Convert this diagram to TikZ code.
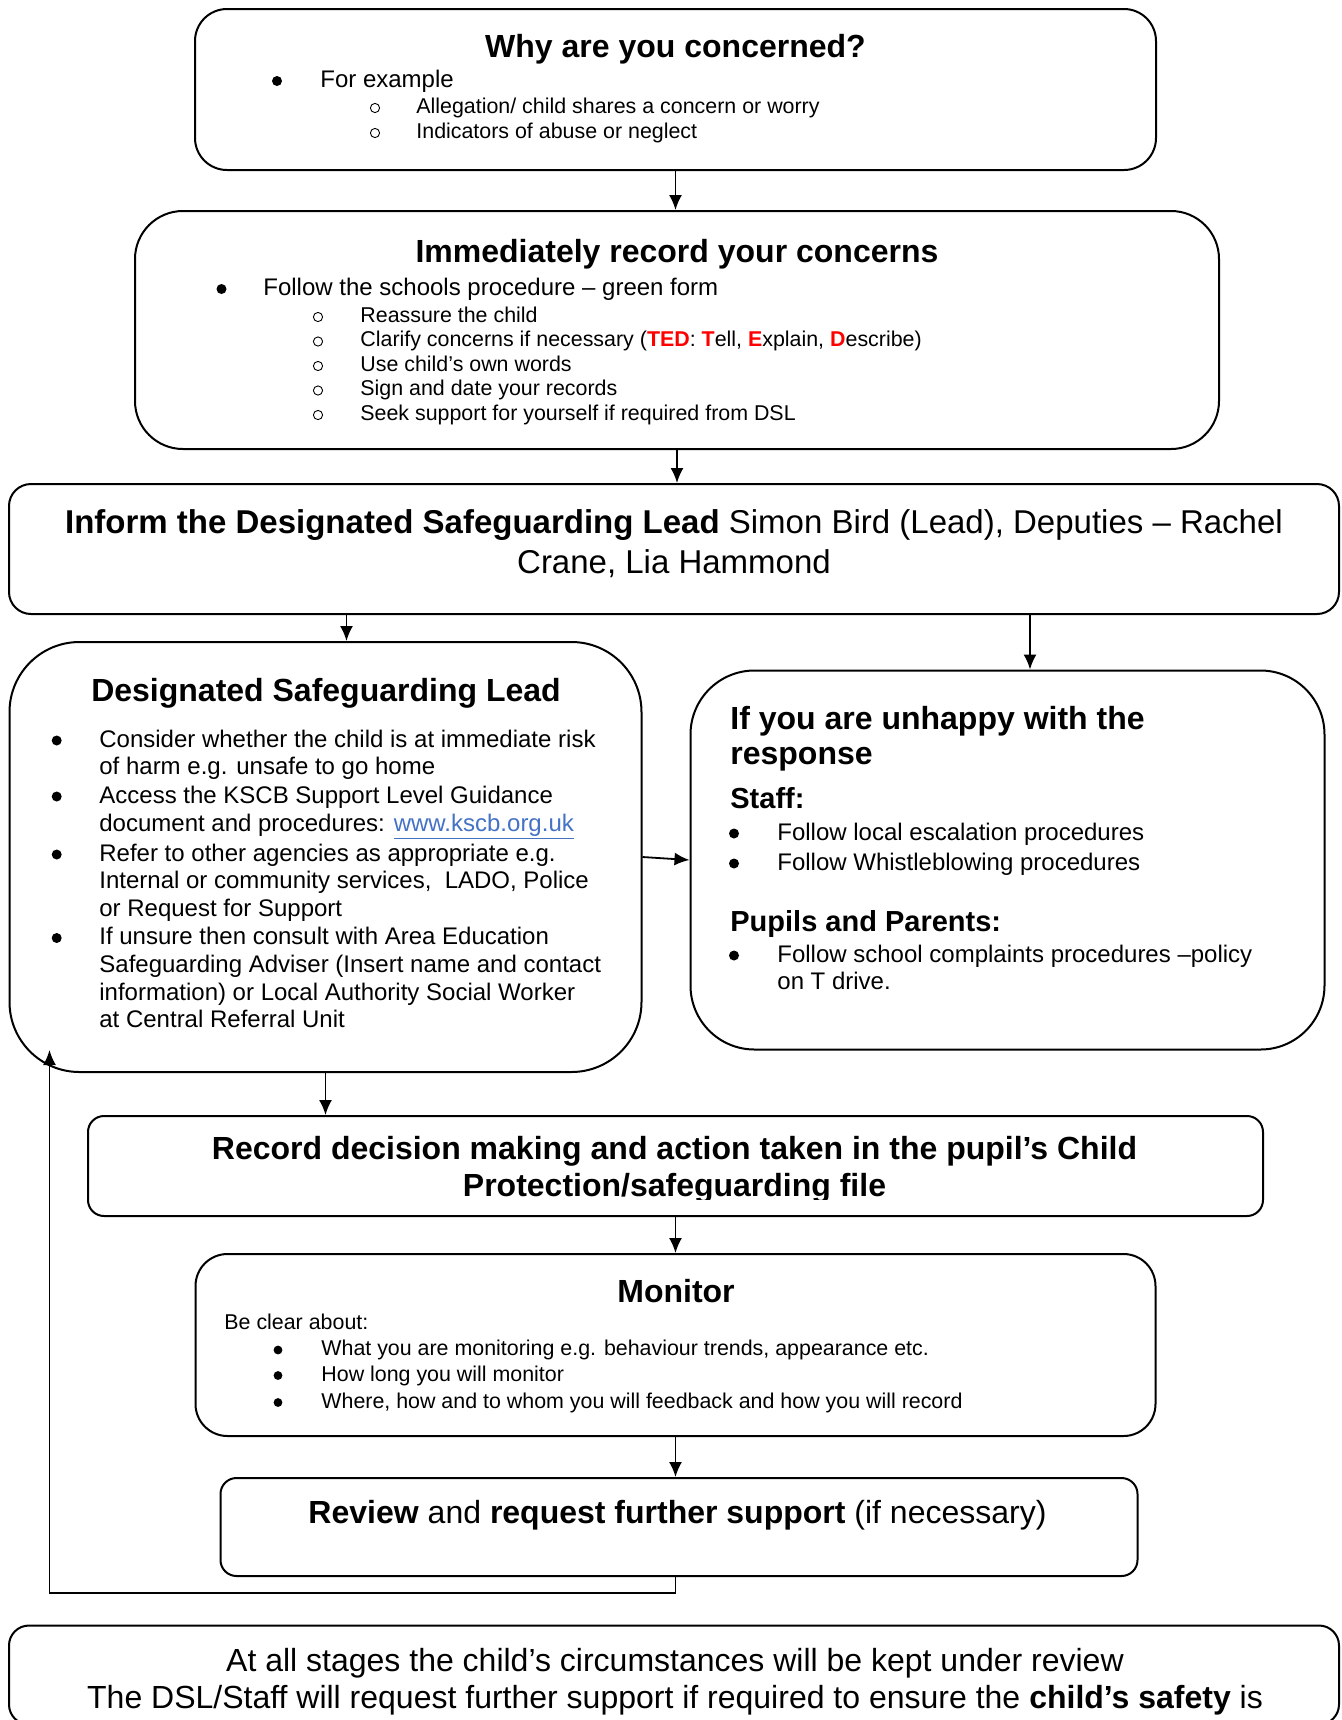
\documentclass[tikz,border=0pt]{standalone}
\usepackage{fontspec}
\setmainfont{Liberation Sans}
\usetikzlibrary{arrows.meta}
\definecolor{linkblue}{HTML}{4472C4}
\definecolor{tedred}{HTML}{FF0000}

\begin{document}
\begin{tikzpicture}[x=0.5pt, y=-0.5pt,
    box/.style={draw, line width=1pt, inner sep=0pt},
    arr/.style={-{Latex[length=7.5pt,width=6.5pt]}, line width=0.9pt},
    hd/.style={font=\fontsize{16}{19}\selectfont\bfseries, inner sep=0pt, anchor=base},
    big/.style={font=\fontsize{16}{19}\selectfont, inner sep=0pt, anchor=base},
    hdl/.style={font=\fontsize{16}{19}\selectfont\bfseries, inner sep=0pt, anchor=base west},
    subhd/.style={font=\fontsize{14.5}{17}\selectfont\bfseries, inner sep=0pt, anchor=base west},
    txt/.style={font=\fontsize{12}{14}\selectfont, inner sep=0pt, anchor=base west},
    sm/.style={font=\fontsize{10.7}{12.5}\selectfont, inner sep=0pt, anchor=base west},
    dot/.style={circle, fill, inner sep=0pt, minimum size=5pt},
    smdot/.style={circle, fill, inner sep=0pt, minimum size=4.4pt},
    ring/.style={circle, draw, line width=0.45pt, inner sep=0pt, minimum size=4.6pt}]
    \useasboundingbox (0,0) rectangle (1341,1720);
    \clip (0,0) rectangle (1341,1720);
    \fill[white] (0,0) rectangle (1341,1720);

    % boxes
    \node[box, rounded corners=16pt, minimum width=480.5pt, minimum height=80.5pt] (why) at (675.5,89.5) {};
    \node[box, rounded corners=24pt, minimum width=542pt, minimum height=119pt] (rec) at (677,330) {};
    \node[box, rounded corners=11pt, minimum width=665pt, minimum height=65pt] (inform) at (674,549) {};
    \node[box, rounded corners=35pt, minimum width=316pt, minimum height=215pt] (dsl) at (325.5,857) {};
    \node[box, rounded corners=32pt, minimum width=317pt, minimum height=189.5pt] (unhappy) at (1007.5,860) {};
    \node[box, rounded corners=8pt, minimum width=587.5pt, minimum height=50pt] (record) at (675.5,1166) {};
    \node[box, rounded corners=16pt, minimum width=480pt, minimum height=91pt] (monitor) at (675.5,1345) {};
    \node[box, rounded corners=8pt, minimum width=458.5pt, minimum height=49pt] (review) at (679,1527) {};
    \node[box, rounded corners=10pt, minimum width=665pt, minimum height=49.5pt] (stages) at (674,1675) {};

    % why are you concerned
    \node[hd] (why-h) at (675.5,57) {Why are you concerned?};
    \node[dot] (why-b) at (277,81) {};
    \node[txt] (why-t) at (320,87) {For example};
    \node[ring] (why-o1) at (375,108) {};
    \node[sm] (why-s1) at (416,113) {Allegation/ child shares a concern or worry};
    \node[ring] (why-o2) at (375,133) {};
    \node[sm] (why-s2) at (416,138) {Indicators of abuse or neglect};

    % record concerns
    \node[hd] (rec-h) at (677,262) {Immediately record your concerns};
    \node[dot] (rec-b) at (221.5,289) {};
    \node[txt] (rec-t) at (263,295) {Follow the schools procedure – green form};
    \foreach \t [count=\i from 0] in {Reassure the child,
        {Clarify concerns if necessary (\textcolor{tedred}{\textbf{TED}}: \textcolor{tedred}{\textbf{T}}ell, \textcolor{tedred}{\textbf{E}}xplain, \textcolor{tedred}{\textbf{D}}escribe)},
        Use child’s own words, Sign and date your records,
        Seek support for yourself if required from DSL} {
        \node[ring] (rec-o\i) at (318,317+24.5*\i) {};
        \node[sm] (rec-s\i) at (360,322+24.5*\i) {\t};
    }

    % inform
    \node[big, font=\fontsize{16.5}{19.5}\selectfont] (inform-t1) at (674,533) {\textbf{Inform the Designated Safeguarding Lead} Simon Bird (Lead), Deputies – Rachel};
    \node[big, font=\fontsize{16.5}{19.5}\selectfont] (inform-t2) at (674,573.5) {Crane, Lia Hammond};

    % designated safeguarding lead
    \node[hd] (dsl-h) at (326,701) {Designated Safeguarding Lead};
    \foreach \y [count=\i] in {747,803,861,944.5}
        \node[dot] (dsl-b\i) at (56.7,\y-6.5) {};
    \foreach \y/\t [count=\i] in {747/{Consider whether the child is at immediate risk},
        774/{of harm e.g. unsafe to go home},
        803/{Access the KSCB Support Level Guidance},
        831/{document and procedures: \textcolor{linkblue}{\underline{www.kscb.org.uk}}},
        861/{Refer to other agencies as appropriate e.g.},
        888/{Internal or community services,\ \ LADO, Police},
        916/{or Request for Support},
        944.5/{If unsure then consult with Area Education},
        972/{Safeguarding Adviser (Insert name and contact},
        1000/{information) or Local Authority Social Worker},
        1027.5/{at Central Referral Unit}}
        \node[txt] (dsl-l\i) at (99,\y) {\t};

    % unhappy
    \node[hdl] (unhappy-h1) at (730,729) {If you are unhappy with the};
    \node[hdl] (unhappy-h2) at (730,764.5) {response};
    \node[subhd] (staff) at (730,808) {Staff:};
    \node[dot] (staff-b1) at (734,833.5) {};
    \node[txt] (staff-t1) at (777,840) {Follow local escalation procedures};
    \node[dot] (staff-b2) at (734,863.5) {};
    \node[txt] (staff-t2) at (777,870) {Follow Whistleblowing procedures};
    \node[subhd] (pupils) at (730,931) {Pupils and Parents:};
    \node[dot] (pupils-b) at (734,955.5) {};
    \node[txt] (pupils-t1) at (777,962) {Follow school complaints procedures –policy};
    \node[txt] (pupils-t2) at (777,989) {on T drive.};

    % record decision
    \begin{scope}
        \clip (88,1116) rectangle (1263,1199);
        \node[hd] (record-t1) at (674.5,1159.5) {Record decision making and action taken in the pupil’s Child};
        \node[hd] (record-t2) at (674.5,1196) {Protection/safeguarding file};
    \end{scope}

    % monitor
    \node[hd] (monitor-h) at (676,1302) {Monitor};
    \node[sm] (monitor-t) at (224,1329) {Be clear about:};
    \foreach \y/\t [count=\i] in {1355.5/{What you are monitoring e.g. behaviour trends, appearance etc.},
        1381/{How long you will monitor},
        1408/{Where, how and to whom you will feedback and how you will record}} {
        \node[smdot] (monitor-b\i) at (278,\y-5.5) {};
        \node[sm] (monitor-l\i) at (321,\y) {\t};
    }

    % review
    \node[big] (review-t) at (677.5,1523) {\textbf{Review} and \textbf{request further support} (if necessary)};

    % all stages
    \node[big] (stages-t1) at (675,1671) {At all stages the child’s circumstances will be kept under review};
    \node[big] (stages-t2) at (675,1708) {The DSL/Staff will request further support if required to ensure the \textbf{child’s safety} is};

    % arrows
    \coordinate (d1) at (346.5,0);
    \coordinate (d2) at (1030,0);
    \coordinate (fb) at (49.5,1050);
    \draw[arr] (why.south) -- (why.south |- rec.north);
    \draw[arr] (rec.south) -- (rec.south |- inform.north);
    \draw[arr] (d1 |- inform.south) -- (d1 |- dsl.north);
    \draw[arr] (d2 |- inform.south) -- (d2 |- unhappy.north);
    \draw[arr] (dsl.east) -- (unhappy.west);
    \draw[arr] (dsl.south) -- (dsl.south |- record.north);
    \draw[arr] (record.south) -- (record.south |- monitor.north);
    \draw[arr] (monitor.south) -- (monitor.south |- review.north);
    % back to the DSL
    \draw[arr] (review.south -| monitor.south) -- ++(0,16) -| (fb);
\end{tikzpicture}
\end{document}
